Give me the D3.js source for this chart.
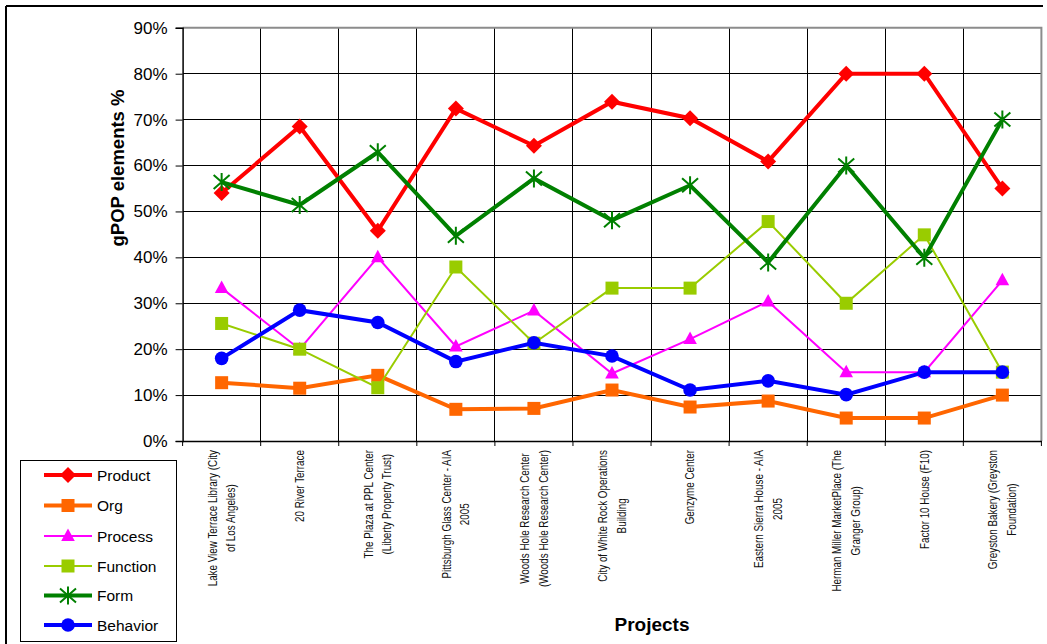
<!DOCTYPE html>
<html><head><meta charset="utf-8">
<script src="https://cdn.jsdelivr.net/npm/d3@7"></script>
<style>body{margin:0;background:#fff;}svg{display:block;font-family:"Liberation Sans",Arial,sans-serif;}</style>
</head><body>
<svg id="c" width="1047" height="644"></svg>
<script>
const categories = [
  ["Lake View Terrace Library (City","of Los Angeles)"],
  ["20 River Terrace"],
  ["The Plaza at PPL Center","(Liberty Property Trust)"],
  ["Pittsburgh Glass Center - AIA","2005"],
  ["Woods Hole Research Center","(Woods Hole Research Center)"],
  ["City of White Rock Operations","Building"],
  ["Genzyme Center"],
  ["Eastern Sierra House - AIA","2005"],
  ["Herman Miller MarketPlace (The","Granger Group)"],
  ["Factor 10 House (F10)"],
  ["Greyston Bakery (Greyston","Foundation)"]
];
const seriesNames = ["Product","Org","Process","Function","Form","Behavior"];
const product  = [54.0, 68.5, 45.8, 72.4, 64.3, 73.9, 70.3, 60.9, 80.0, 80.0, 55.0];
const org      = [12.7, 11.5, 14.3, 6.9, 7.1, 11.1, 7.4, 8.7, 5.0, 5.0, 10.0];
const process_ = [33.3, 20.0, 40.0, 20.6, 28.4, 14.7, 22.2, 30.4, 15.0, 15.0, 35.0];
const func     = [25.6, 20.0, 11.6, 37.9, 21.3, 33.3, 33.3, 47.8, 30.0, 44.9, 15.0];
const form     = [56.4, 51.4, 62.9, 44.7, 57.2, 48.1, 55.7, 38.9, 60.0, 39.9, 70.0];
const behavior = [18.0, 28.5, 25.8, 17.3, 21.4, 18.5, 11.1, 13.1, 10.1, 15.0, 15.0];
const yTicks = [0,10,20,30,40,50,60,70,80,90];

const styles = {
  Product: {color:"#FF0000", w:4, marker:"diamond"},
  Org: {color:"#FF6600", w:4, marker:"square"},
  Process: {color:"#FF00FF", w:2, marker:"triangle"},
  Function: {color:"#99CC00", w:2, marker:"square2"},
  Form: {color:"#008000", w:4, marker:"star"},
  Behavior: {color:"#0000FF", w:4, marker:"circle"}
};
const data = {Product:product, Org:org, Process:process_, Function:func, Form:form, Behavior:behavior};

const svg = d3.select("#c");
const L = 182.6, R = 1041.4, T = 27.8, B = 441;
const catKeys = categories.map((d,i)=>i);
const x = d3.scaleBand().domain(catKeys).range([L,R]).padding(0);
const cx = i => x(i) + x.bandwidth()/2;
const y = d3.scaleLinear().domain([0,90]).range([B,T]);

// outer frame (top & left)
svg.append("line").attr("x1",6).attr("x2",1043).attr("y1",6).attr("y2",6).attr("stroke","#000").attr("stroke-width",2);
svg.append("line").attr("x1",6).attr("x2",6).attr("y1",6).attr("y2",644).attr("stroke","#000").attr("stroke-width",2);

// gridlines horizontal
svg.append("g").selectAll("line").data(yTicks.filter(t=>t>0 && t<90)).join("line")
  .attr("x1",L).attr("x2",R).attr("y1",d=>y(d)).attr("y2",d=>y(d))
  .attr("stroke","#000").attr("stroke-width",1).attr("shape-rendering","crispEdges");
// vertical gridlines at category boundaries
svg.append("g").selectAll("line").data(catKeys.slice(1)).join("line")
  .attr("x1",d=>x(d)).attr("x2",d=>x(d)).attr("y1",T).attr("y2",B)
  .attr("stroke","#000").attr("stroke-width",1).attr("shape-rendering","crispEdges");
// plot border gray top/right
svg.append("path").attr("d",`M${L},${T}H${R}V${B}`).attr("fill","none").attr("stroke","#8c8c8c").attr("stroke-width",2);

// y axis
const yAxis = d3.axisLeft(y).tickValues(yTicks).tickFormat(d=>d+"%").tickSize(7).tickPadding(8);
const ga = svg.append("g").attr("transform",`translate(${L},0)`).call(yAxis);
ga.select(".domain").attr("stroke","#000").attr("stroke-width",1.5);
ga.selectAll(".tick line").attr("stroke","#000");
ga.selectAll(".tick text").attr("font-size",17).attr("font-family","Liberation Sans, Arial, sans-serif").attr("fill","#000");

// x axis
const xAxis = d3.axisBottom(x).tickSize(0).tickFormat("");
const gx = svg.append("g").attr("transform",`translate(0,${B})`).call(xAxis);
gx.select(".domain").attr("stroke","#000").attr("stroke-width",1.5);
gx.selectAll(".tick").remove();
svg.append("g").selectAll("line").data(catKeys.concat([catKeys.length])).join("line")
  .attr("x1",d=>d<catKeys.length?x(d):R).attr("x2",d=>d<catKeys.length?x(d):R)
  .attr("y1",B).attr("y2",B+5).attr("stroke","#000").attr("stroke-width",1);

// x labels
const sc = 0.82, lh = 18.5, labelTop = 450;
categories.forEach((lines,i)=>{
  const g = svg.append("g");
  const texts = lines.map((t,k)=> g.append("text").text(t).attr("font-size",12).attr("fill","#111")
      .attr("text-anchor","middle").attr("dominant-baseline","central"));
  const maxLen = d3.max(texts, t=>t.node().getComputedTextLength()*sc);
  g.attr("transform",`translate(${cx(i)},${labelTop+maxLen/2}) rotate(-90)`);
  texts.forEach((t,k)=> t.attr("transform",`translate(0,${(k-(lines.length-1)/2)*lh}) scale(${sc},1)`));
});

// axis titles
svg.append("text").text("gPOP elements %").attr("font-weight","bold").attr("font-size",18.5)
  .attr("text-anchor","middle").attr("transform","translate(124,168) rotate(-90)");
svg.append("text").text("Projects").attr("font-weight","bold").attr("font-size",19)
  .attr("text-anchor","middle").attr("x",652).attr("y",631);

// markers
function drawMarker(g, type, color, px, py){
  if(type==="diamond"){
    g.append("path").attr("d",`M${px},${py-8}L${px+8},${py}L${px},${py+8}L${px-8},${py}Z`).attr("fill",color);
  } else if(type==="square"){
    g.append("rect").attr("x",px-6.5).attr("y",py-6.5).attr("width",13).attr("height",13).attr("fill",color);
  } else if(type==="square2"){
    g.append("rect").attr("x",px-6.5).attr("y",py-6.5).attr("width",13).attr("height",13).attr("fill",color);
  } else if(type==="triangle"){
    g.append("path").attr("d",`M${px},${py-7.5}L${px+6.8},${py+5}L${px-6.8},${py+5}Z`).attr("fill",color);
  } else if(type==="star"){
    g.append("path").attr("d",`M${px-8},${py-7}L${px+8},${py+7}M${px-8},${py+7}L${px+8},${py-7}M${px},${py-9}L${px},${py+9}`)
      .attr("stroke",color).attr("stroke-width",2).attr("fill","none");
  } else if(type==="circle"){
    g.append("circle").attr("cx",px).attr("cy",py).attr("r",6.8).attr("fill",color);
  }
}

const line = d3.line().x((d,i)=>cx(i)).y(d=>y(d));
seriesNames.forEach(name=>{
  const s = styles[name], vals = data[name];
  const g = svg.append("g");
  g.append("path").datum(vals).attr("d",line).attr("fill","none").attr("stroke",s.color)
    .attr("stroke-width",s.w).attr("stroke-linejoin","miter");
  vals.forEach((v,i)=>drawMarker(g, s.marker, s.color, cx(i), y(v)));
});

// legend
const lg = svg.append("g");
lg.append("rect").attr("x",20.5).attr("y",460.5).attr("width",156).attr("height",181).attr("fill","#fff").attr("stroke","#000").attr("stroke-width",1);
const rowsY = [475,505.5,536,566,595.5,625];
seriesNames.forEach((name,k)=>{
  const s = styles[name], yy = rowsY[k];
  lg.append("line").attr("x1",44).attr("x2",92).attr("y1",yy).attr("y2",yy).attr("stroke",s.color).attr("stroke-width",s.w);
  drawMarker(lg, s.marker, s.color, 68, yy);
  lg.append("text").text(name).attr("x",97).attr("y",yy).attr("dy","0.36em").attr("font-size",15.5).attr("fill","#000");
});
</script>
</body></html>
